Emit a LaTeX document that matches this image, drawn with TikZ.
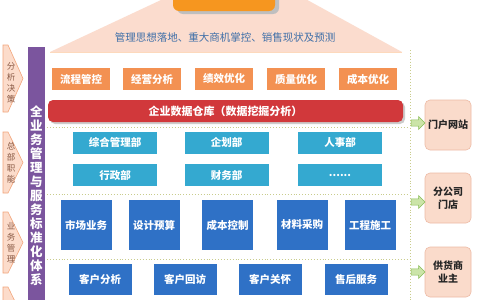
\documentclass[tikz,border=0pt]{standalone}
\usepackage{fontspec}
\newfontfamily\cjk{Noto Sans CJK SC}
\usetikzlibrary{shapes.arrows}
\definecolor{roof}{HTML}{FBDCCE}
\definecolor{rooftext}{HTML}{3F6FA8}
\definecolor{purp}{HTML}{7B559E}
\definecolor{orng}{HTML}{F39152}
\definecolor{redbar}{HTML}{D1383B}
\definecolor{cyanb}{HTML}{34A9D0}
\definecolor{blueb}{HTML}{2F71C6}
\definecolor{peach}{HTML}{FADBCB}
\definecolor{peachline}{HTML}{EDBBA6}
\definecolor{arrfill}{HTML}{FCDCCB}
\definecolor{arrline}{HTML}{F2A67C}
\definecolor{arrtext}{HTML}{8A5A45}
\definecolor{grfill}{HTML}{CBE4A8}
\definecolor{grline}{HTML}{8CBE5A}
\definecolor{dotc}{HTML}{C9CC8C}
\definecolor{topor}{HTML}{F6961F}
\tikzset{
  every node/.style={font=\cjk},
  boxbase/.style={inner sep=0pt, text=white, font=\cjk\bfseries\fontsize{10.5}{12}\selectfont},
  obox/.style={boxbase, fill=orng, minimum width=58pt, minimum height=22pt},
  cbox/.style={boxbase, fill=cyanb, minimum width=84pt, minimum height=22pt},
  bbox/.style={boxbase, fill=blueb, minimum width=51pt, minimum height=50pt},
  b2box/.style={boxbase, fill=blueb, minimum width=63pt, minimum height=31pt},
  rbox/.style={inner sep=0pt, fill=peach, draw=peachline, line width=0.6pt, rounded corners=5pt,
     minimum width=46pt, minimum height=50pt, align=center,
     font=\cjk\bfseries\fontsize{10}{12.5}\selectfont, text=black!85},
  garrow/.style={single arrow, fill=grfill, draw=grline, line width=0.6pt, inner sep=0pt,
     text height=5pt, text depth=0pt, text width=4pt,
     minimum height=14pt, minimum width=13pt, single arrow head extend=3pt},
  sep/.style={dotc, dotted, line width=0.9pt},
  larrow/.style={fill=arrfill, draw=arrline, line width=0.6pt},
  ltext/.style={align=center, text=arrtext, font=\cjk\fontsize{8.5}{11}\selectfont, inner sep=0pt},
}
\begin{document}
\begin{tikzpicture}[x=1pt,y=-1pt]
\useasboundingbox (0,0) rectangle (480,300);
\clip (0,0) rectangle (480,300);
\fill[white] (0,0) rectangle (480,300);
% roof
\fill[roof] (50,52) -- (240,-37) -- (402,52) -- cycle;
\draw[roof!70!orange!60, line width=0.5pt] (50,52) -- (402,52);
% top box
\fill[black!25, rounded corners=6pt] (177,-20) rectangle (279,14);
\fill[topor, rounded corners=6pt] (173,-20) rectangle (275,11);
\node[text=rooftext, font=\cjk\fontsize{10.5}{12}\selectfont] (rooftxt) at (225,38) {管理思想落地、重大商机掌控、销售现状及预测};
% purple bar
\fill[purp] (28,47) rectangle (45,310);
\node[text=white, align=center, inner sep=0pt, font=\cjk\bfseries\fontsize{12.5}{14}\selectfont] (ptxt) at (36.5,196)
  {全\\业\\务\\管\\理\\与\\服\\务\\标\\准\\化\\体\\系};
% left arrows
\draw[larrow] (3,45) -- (8,45) -- (23,78.5) -- (8,112) -- (3,112) -- cycle;
\node[ltext] (l1) at (11,83) {分\\析\\决\\策};
\draw[larrow] (3,132) -- (8,132) -- (23,162.5) -- (8,193) -- (3,193) -- cycle;
\node[ltext] (l2) at (11,162.5) {总\\部\\职\\能};
\draw[larrow] (3,212) -- (8,212) -- (23,242.5) -- (8,273) -- (3,273) -- cycle;
\node[ltext] (l3) at (11,242.5) {业\\务\\管\\理};
\draw[larrow] (3,287) -- (8,287) -- (23,318) -- (8,349) -- (3,349) -- cycle;
% orange row
\node[obox] (o1) at (81,79) {流程管控};
\node[obox] (o2) at (152,79) {经营分析};
\node[obox] (o3) at (224,79) {绩效优化};
\node[obox] (o4) at (296,79) {质量优化};
\node[obox] (o5) at (368,79) {成本优化};
% red bar
\fill[black!20, rounded corners=5pt] (50,102) rectangle (405,124);
\node[boxbase, fill=redbar, rounded corners=5pt, minimum width=355pt, minimum height=22pt,
      font=\cjk\bfseries\fontsize{11}{12}\selectfont] (dw) at (225.5,111) {企业数据仓库（数据挖掘分析）};
% separators
\draw[sep] (47,127) -- (408,127);
\draw[sep] (47,194) -- (408,194);
\draw[sep] (47,259) -- (408,259);
\draw[sep] (410,50) -- (410,300);
% cyan rows
\node[cbox] (c1) at (115,142.5) {综合管理部};
\node[cbox] (c2) at (226.5,142.5) {企划部};
\node[cbox] (c3) at (340,142.5) {人事部};
\node[cbox] (c4) at (115,175) {行政部};
\node[cbox] (c5) at (226.5,175) {财务部};
\node[cbox] (c6) at (340,175) {......};
% blue row
\node[bbox] (b1) at (86,225) {市场业务};
\node[bbox] (b2) at (154,225) {设计预算};
\node[bbox] (b3) at (227.5,225) {成本控制};
\node[bbox] (b4) at (302,225) {材料采购};
\node[bbox] (b5) at (370,225) {工程施工};
% blue row 2
\node[b2box] (d1) at (100,279.5) {客户分析};
\node[b2box] (d2) at (185,279.5) {客户回访};
\node[b2box] (d3) at (270,279.5) {客户关怀};
\node[b2box] (d4) at (356,279.5) {售后服务};
% right side
\node[rbox] (r1) at (448,125) {门户网站};
\node[rbox] (r2) at (448,198) {分公司\\门店};
\node[rbox] (r3) at (448,272) {供货商\\业主};
\node[garrow] (g1) at (416.5,123) {};
\node[garrow] (g2) at (416.5,202) {};
\node[garrow] (g3) at (416.5,272) {};
\end{tikzpicture}
\end{document}
